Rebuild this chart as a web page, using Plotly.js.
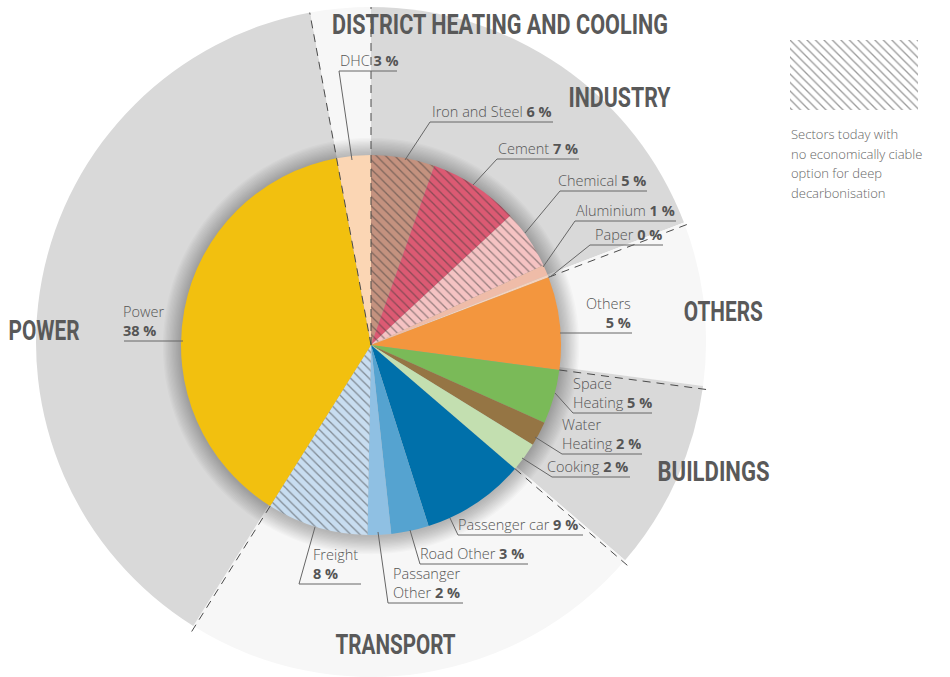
<!DOCTYPE html>
<html>
<head>
<meta charset="utf-8">
<script src="https://cdn.plot.ly/plotly-3.0.1.min.js"></script>
<style>
  html, body { margin: 0; padding: 0; background: #fff; }
  #chart { width: 950px; height: 677px; }
</style>
</head>
<body>
<div id="chart"></div>
<script>
// inner pie, clockwise from 12 o'clock
const slices = ['Iron and Steel', 'Cement', 'Chemical', 'Aluminium', 'Paper', 'Others',
  'Space Heating', 'Water Heating', 'Cooking', 'Passenger car', 'Road Other',
  'Passanger Other', 'Freight', 'Power', 'DHC'];
const sliceValues = [5.4, 7.7, 5.0, 0.9, 0.2, 7.9, 4.6, 2.1, 2.5, 8.8, 3.2, 2.0, 8.6, 38.2, 2.9];
const sliceLabels = ['6 %', '7 %', '5 %', '1 %', '0 %', '5 %', '5 %', '2 %', '2 %', '9 %', '3 %', '2 %', '8 %', '38 %', '3 %'];
const sliceColors = ['#c4927f', '#dc5a73', '#f5c3c3', '#efbca8', '#f3d2bf', '#f3963e',
  '#7aba58', '#957544', '#c3dfb0', '#0070aa', '#55a3d0', '#8fc0e3', '#c8ddf0', '#f2c00f', '#fbd6b4'];
const hatched = [true, true, true, false, false, false, false, false, false, false, false, false, true, false, false];

// outer ring (sectors)
const sectors = ['INDUSTRY', 'OTHERS', 'BUILDINGS', 'TRANSPORT', 'POWER', 'DISTRICT HEATING AND COOLING'];
const sectorValues = [19.2, 7.9, 9.2, 22.6, 38.2, 2.9];
const sectorColors = ['#d9d9d9', '#f7f7f7', '#d9d9d9', '#f7f7f7', '#d9d9d9', '#f7f7f7'];

const legendLines = ['Sectors today with', 'no economically ciable', 'option for deep', 'decarbonisation'];

const W = 950, H = 677;
const CX = 371, CY = 345, R = 190;

function dom(cx, cy, r) {
  return {
    x: [(cx - r) / W, (cx + r) / W],
    y: [Math.max(0, (H - cy - r) / H), Math.min(1, (H - cy + r) / H)]
  };
}
const px = x => x / W;
const py = y => 1 - y / H;

const traces = [];

// outer ring
traces.push({
  type: 'pie', values: sectorValues, labels: sectors, sort: false, direction: 'clockwise',
  rotation: 0, textinfo: 'none', hoverinfo: 'none', showlegend: false,
  marker: { colors: sectorColors, line: { width: 0 } },
  domain: { x: [(CX - 335) / W, (CX + 335) / W], y: [0, 670 / H] }
});

// soft shadow round the inner pie
for (let i = 14; i >= 1; i--) {
  traces.push({
    type: 'pie', values: [1], labels: ['shadow' + i], textinfo: 'none', hoverinfo: 'none',
    showlegend: false, sort: false,
    marker: { colors: ['rgba(0,0,0,0.02)'], line: { width: 0 } },
    domain: dom(CX, CY + 1, R + i * 1.3)
  });
}

// inner pie
traces.push({
  type: 'pie', values: sliceValues, labels: slices, sort: false, direction: 'clockwise',
  rotation: 0, textinfo: 'none', hoverinfo: 'none', showlegend: false,
  marker: {
    colors: sliceColors, line: { width: 0 },
    pattern: {
      shape: hatched.map(h => h ? '\\' : ''),
      fgcolor: '#3a3a3a', size: 6.5, solidity: 0.2, fillmode: 'overlay'
    }
  },
  domain: dom(CX, CY, R)
});

// hatched legend box
traces.push({
  type: 'bar', x: [0], y: [1], width: [1], xaxis: 'x', yaxis: 'y', showlegend: false,
  hoverinfo: 'none',
  marker: { color: '#ffffff', line: { width: 0 },
    pattern: { shape: '\\', fgcolor: '#383838', size: 6, solidity: 0.22, fillmode: 'overlay' } }
});

const shapes = [];
const annotations = [];
const lineCol = '#666';

function seg(x0, y0, x1, y1, dash, w) {
  shapes.push({ type: 'line', xref: 'paper', yref: 'paper', x0: px(x0), y0: py(y0), x1: px(x1), y1: py(y1),
    line: { color: dash ? '#4a4a4a' : lineCol, width: w || 1, dash: dash || 'solid' } });
}

// dashed sector boundaries
let cum = 0;
sectorValues.forEach((v, i) => {
  cum += v;
  const a = cum / 100 * 2 * Math.PI;
  const r0 = i >= 4 ? 0 : R;
  seg(CX + r0 * Math.sin(a), CY - r0 * Math.cos(a), CX + 338 * Math.sin(a), CY - 338 * Math.cos(a), '8px,6px', 1);
});

// slice labels: [index, side, anchor x, underline y, underline x0, x1, leader end x, y, two lines]
const labelSpots = [
  [14, 'left', 338, 71, 339, 397, 352, 160, false],
  [0, 'right', 554, 122, 430, 553, 405, 160, false],
  [1, 'right', 580, 159, 497, 579, 473, 185, false],
  [2, 'right', 648, 191, 560, 647, 525, 233, false],
  [3, 'right', 677, 221, 575, 676, 543, 267, false],
  [4, 'right', 664, 245, 590, 663, 550, 277, false],
  [5, 'right', 633, 333, 560, 632, 560, 333, true],
  [6, 'left', 571, 413, 573, 652, 555, 393, true],
  [7, 'left', 560, 454, 562, 642, 535, 437, true],
  [8, 'left', 545, 477, 552, 630, 522, 458, false],
  [9, 'left', 456, 535, 458, 583, 450, 518, false],
  [10, 'left', 418, 564, 420, 528, 410, 530, false],
  [11, 'left', 391, 603, 388, 463, 378, 532, true],
  [12, 'left', 311, 584, 299, 361, 315, 527, true],
  [13, 'left', 121, 341, 124, 183, 183, 341, true]
];

labelSpots.forEach(s => {
  const [idx, side, ax, uy, ux0, ux1, lx, ly, two] = s;
  const name = slices[idx];
  let text;
  if (two) {
    const parts = name.split(' ');
    if (parts.length > 1) text = parts[0] + '<br>' + parts.slice(1).join(' ') + ' <b>' + sliceLabels[idx] + '</b>';
    else text = name + '<br><b>' + sliceLabels[idx] + '</b>';
  } else {
    text = name + ' <b>' + sliceLabels[idx] + '</b>';
  }
  annotations.push({
    xref: 'paper', yref: 'paper', x: px(ax), y: py(uy + 1), xanchor: side, yanchor: 'bottom',
    text: text, showarrow: false, align: side,
    font: { family: '"Open Sans", Lato, sans-serif', size: 14.5, weight: 300, color: '#555' }
  });
  seg(ux0, uy, ux1, uy);
  if (!(lx === ux1 && ly === uy) && !(lx === ux0 && ly === uy)) seg(ux0, uy, lx, ly);
});

// sector titles: [sector, centre x, centre y, width]
const titleSpots = [
  [0, 619, 98, 102], [1, 723, 312, 79], [2, 713, 472, 112], [3, 395, 645, 120], [4, 44, 331, 71], [5, 500, 25, 336]
];
const titleStart = annotations.length;
titleSpots.forEach(t => {
  annotations.push({
    xref: 'paper', yref: 'paper', x: px(t[1]), y: py(t[2]), xanchor: 'center', yanchor: 'middle',
    text: '<b>' + sectors[t[0]] + '</b>', showarrow: false,
    font: { family: 'Roboto, "DejaVu Sans", sans-serif', size: 27, color: '#595959' }
  });
});

// legend text
legendLines.forEach((l, i) => {
  annotations.push({
    xref: 'paper', yref: 'paper', x: px(789), y: py(134 + i * 19.5), xanchor: 'left', yanchor: 'middle',
    text: l, showarrow: false,
    font: { family: '"Open Sans", Lato, sans-serif', size: 13, weight: 300, color: '#666' }
  });
});

const layout = {
  width: W, height: H,
  margin: { l: 0, r: 0, t: 0, b: 0 },
  paper_bgcolor: '#fff', plot_bgcolor: '#fff',
  showlegend: false,
  xaxis: { domain: [790 / W, 918 / W], range: [-0.5, 0.5], autorange: false, visible: false, fixedrange: true },
  yaxis: { domain: [1 - 110 / H, 1 - 40 / H], range: [0, 1], autorange: false, visible: false, fixedrange: true },
  bargap: 0,
  shapes: shapes,
  annotations: annotations
};

Plotly.newPlot('chart', traces, layout, { staticPlot: true, displayModeBar: false }).then(gd => {
  // squeeze the sector titles into a condensed look
  titleSpots.forEach((t, j) => {
    const txt = gd.querySelector('.annotation[data-index="' + (titleStart + j) + '"] text.annotation-text');
    if (txt) {
      txt.setAttribute('textLength', t[3]);
      txt.setAttribute('lengthAdjust', 'spacingAndGlyphs');
    }
  });
});
</script>
</body>
</html>
